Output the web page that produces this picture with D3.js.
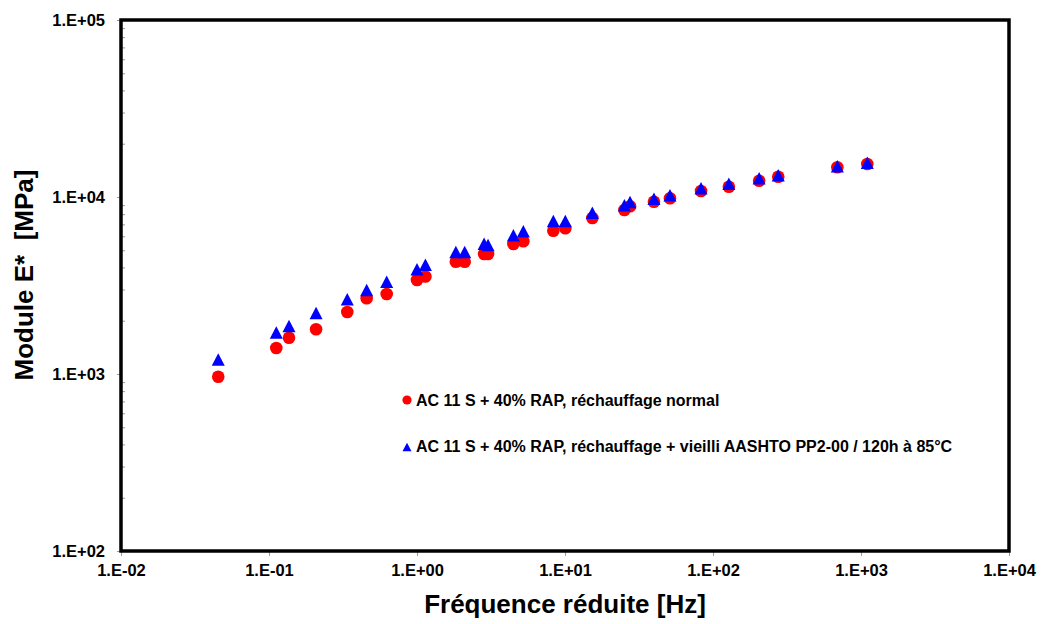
<!DOCTYPE html>
<html>
<head>
<meta charset="utf-8">
<script src="https://cdn.jsdelivr.net/npm/d3@7"></script>
<style>
  body { margin: 0; background: #fff; }
  text { font-family: Arial, "Liberation Sans", sans-serif; font-weight: bold; }
</style>
</head>
<body>
<div id="chart"></div>
<script>
// reduced frequency [Hz]
const freq = [0.0454, 0.112, 0.1365, 0.208, 0.338, 0.457, 0.624, 1.0, 1.14, 1.83, 2.10,
    2.84, 3.02, 4.48, 5.23, 8.34, 10.05, 15.3, 25.2, 27.5, 39.9, 51.2, 83.0, 128, 205, 276, 692, 1103];
// E* normal reheating
const modNormal = [965, 1402, 1604, 1789, 2240, 2677, 2831, 3397, 3555, 4310, 4310,
    4764, 4764, 5426, 5620, 6451, 6656, 7610, 8445, 8872, 9406, 9833, 10812, 11436, 12365, 13022, 14719, 15360];
// E* reheating + aged
const modAged = [1208, 1716, 1867, 2211, 2646, 2983, 3318, 3909, 4140, 4890, 4890,
    5447, 5356, 6075, 6401, 7317, 7317, 8153, 8976, 9371, 9781, 10223, 11199, 11887, 12755, 13264, 14908, 15625];

const seriesNames = [
    'AC 11 S + 40% RAP, réchauffage normal',
    'AC 11 S + 40% RAP, réchauffage + vieilli AASHTO PP2-00 / 120h à 85°C'
];
const xTicks = [1e-2, 1e-1, 1e0, 1e1, 1e2, 1e3, 1e4];
const yTicks = [1e2, 1e3, 1e4, 1e5];

const width = 1047, height = 624;
const margin = { top: 20, right: 38, bottom: 73, left: 121 };

const svg = d3.select('#chart').append('svg')
    .attr('width', width)
    .attr('height', height);

const x = d3.scaleLog().domain([1e-2, 1e4]).range([margin.left, width - margin.right]);
const y = d3.scaleLog().domain([1e2, 1e5]).range([height - margin.bottom, margin.top]);

// 1.E+03 style labels
const sci = d => {
    const e = Math.round(Math.log10(d));
    return '1.E' + (e < 0 ? '-' : '+') + String(Math.abs(e)).padStart(2, '0');
};

// x axis
const xAxis = svg.append('g')
    .attr('transform', `translate(0,${y.range()[0]})`)
    .call(d3.axisBottom(x).tickValues(xTicks).tickFormat(sci).tickSize(5).tickPadding(8.5))
    .attr('font-size', 16.5)
    .attr('font-family', null);
xAxis.select('.domain').remove();
xAxis.selectAll('line').attr('stroke', '#999');
xAxis.selectAll('text').attr('fill', '#000');

// y axis
const yAxis = svg.append('g')
    .attr('transform', `translate(${x.range()[0]},0)`)
    .call(d3.axisLeft(y).tickValues(yTicks).tickFormat(sci).tickSize(4).tickPadding(12))
    .attr('font-size', 16.5)
    .attr('font-family', null);
yAxis.select('.domain').remove();
yAxis.selectAll('line').attr('stroke', '#999');
yAxis.selectAll('text').attr('fill', '#000');

// minor y ticks (2..9 in each decade), inside the frame
const minor = [];
for (let dec = 1e2; dec < 1e5; dec *= 10) {
    for (let k = 2; k <= 9; k++) minor.push(dec * k);
}
const yMinor = svg.append('g')
    .attr('transform', `translate(${x.range()[0]},0)`)
    .call(d3.axisRight(y).tickValues(minor).tickFormat('').tickSize(4));
yMinor.select('.domain').remove();
yMinor.selectAll('line').attr('stroke', '#999');

// series 1: red circles
svg.append('g')
    .selectAll('circle')
    .data(freq.map((f, i) => [f, modNormal[i]]))
    .join('circle')
    .attr('cx', d => x(d[0]))
    .attr('cy', d => y(d[1]))
    .attr('r', 6.3)
    .attr('fill', '#ff0000');

// series 2: blue triangles
const tri = s => `M0,${-s}L${s * 1.05},${s}L${-s * 1.05},${s}Z`;
svg.append('g')
    .selectAll('path')
    .data(freq.map((f, i) => [f, modAged[i]]))
    .join('path')
    .attr('transform', d => `translate(${x(d[0])},${y(d[1])})`)
    .attr('d', tri(6.2))
    .attr('fill', '#0000ff');

// plot frame
svg.append('rect')
    .attr('x', x.range()[0])
    .attr('y', y.range()[1])
    .attr('width', x.range()[1] - x.range()[0])
    .attr('height', y.range()[0] - y.range()[1])
    .attr('fill', 'none')
    .attr('stroke', '#000')
    .attr('stroke-width', 3.5);

// legend
const legend = svg.append('g').attr('transform', 'translate(407,400)');
legend.append('circle').attr('r', 4.6).attr('fill', '#ff0000');
legend.append('path').attr('transform', 'translate(0,47)').attr('d', tri(4.3)).attr('fill', '#0000ff');
legend.selectAll('text')
    .data(seriesNames)
    .join('text')
    .attr('x', 9)
    .attr('y', (d, i) => 5.5 + i * 46.5)
    .attr('font-size', 16)
    .text(d => d);

// axis titles
svg.append('text')
    .attr('x', (x.range()[0] + x.range()[1]) / 2)
    .attr('y', 613)
    .attr('text-anchor', 'middle')
    .attr('font-size', 26)
    .text('Fréquence réduite [Hz]');

svg.append('text')
    .attr('transform', 'translate(33,275) rotate(-90)')
    .attr('text-anchor', 'middle')
    .attr('font-size', 26)
    .style('white-space', 'pre')
    .text('Module E*  [MPa]');
</script>
</body>
</html>
